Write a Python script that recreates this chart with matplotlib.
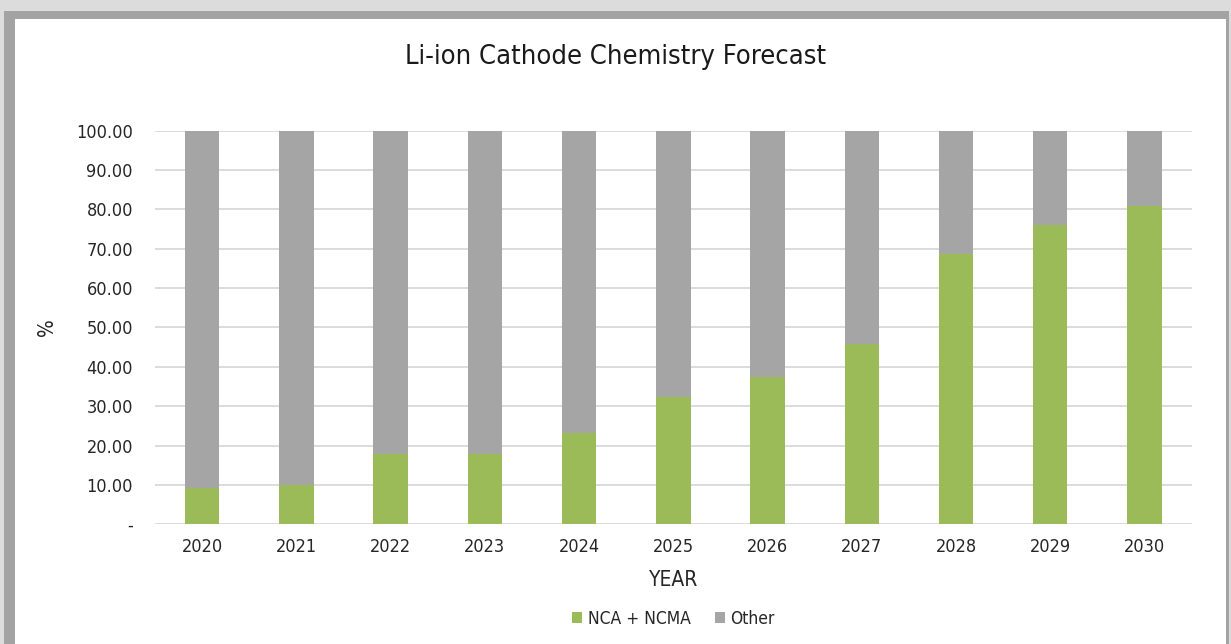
import numpy as np
import matplotlib
matplotlib.use('Agg')
import matplotlib.pyplot as plt
from matplotlib.patches import Rectangle

plt.rcParams['font.family'] = ['Liberation Sans Narrow', 'DejaVu Sans']
plt.rcParams['font.stretch'] = 'condensed'

years = ['2020', '2021', '2022', '2023', '2024', '2025', '2026', '2027', '2028', '2029', '2030']
nca_ncma = [9.3, 10.0, 17.8, 17.8, 23.3, 32.4, 37.5, 45.8, 68.6, 76.1, 80.9]
other = [100 - v for v in nca_ncma]
yticks = [0, 10, 20, 30, 40, 50, 60, 70, 80, 90, 100]

green = '#9bbb59'
gray = '#a5a5a5'
text_color = '#262626'

W, H = 1231, 644
fig = plt.figure(figsize=(W / 100, H / 100), dpi=100)
fig.set_facecolor('#dcdcdc')

# grey frame / shadow around the white chart panel
shadow = Rectangle((4 / W, 0), (1229 - 4) / W, 1 - 11 / H,
                   transform=fig.transFigure, facecolor='#a3a3a3', edgecolor='none', zorder=-20)
fig.patches.append(shadow)
panel = Rectangle((15 / W, 0), (1226 - 15) / W, 1 - 19 / H,
                  transform=fig.transFigure, facecolor='white', edgecolor='none', zorder=-10)
fig.patches.append(panel)

ax = fig.add_axes([0.126, 0.186, 0.842, 0.611])
ax.set_facecolor('none')

x = np.arange(len(years))
ax.bar(x, nca_ncma, width=0.365, color=green, label='NCA + NCMA', zorder=3)
ax.bar(x, other, width=0.365, bottom=nca_ncma, color=gray, label='Other', zorder=3)

ax.set_xlim(-0.5, len(years) - 0.5)
ax.set_ylim(0, 100)
ax.set_yticks(yticks)
ax.set_yticklabels(['-' if t == 0 else f'{t:.2f}' for t in yticks])
ax.set_xticks(x)
ax.set_xticklabels(years)

ax.grid(axis='y', color='#d9d9d9', linewidth=1.3, zorder=0)
ax.set_axisbelow(True)
for s in ['top', 'right', 'left', 'bottom']:
    ax.spines[s].set_visible(False)
ax.tick_params(axis='both', length=0, labelsize=13, colors=text_color, pad=10)
ax.tick_params(axis='y', pad=16)

ax.set_xlabel('YEAR', fontsize=15, color=text_color, labelpad=10)
ax.set_ylabel('%', fontsize=15, color=text_color, labelpad=14)

fig.text(0.5, 1 - 57 / H, 'Li-ion Cathode Chemistry Forecast', ha='center', va='center',
         fontsize=19.5, color='#1a1a1a')

ax.legend(loc='center', bbox_to_anchor=(0.5, -0.24), ncol=2, frameon=False,
          fontsize=12.5, handlelength=0.6, handleheight=0.6, handletextpad=0.3,
          columnspacing=1.4, labelcolor=text_color)

fig.savefig('out.png', dpi=100, facecolor=fig.get_facecolor())
